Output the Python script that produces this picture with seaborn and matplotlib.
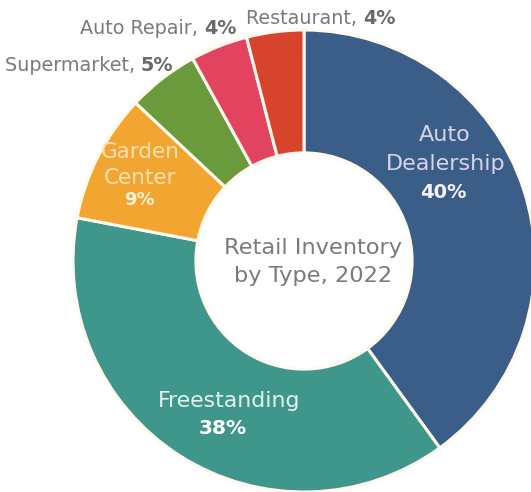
import matplotlib
matplotlib.use("Agg")
import matplotlib.pyplot as plt
import seaborn as sns

# Retail inventory shares by property type, 2022 (percent)
categories = ["Auto Dealership", "Freestanding", "Garden Center",
              "Supermarket", "Auto Repair", "Restaurant"]
shares = [40, 38, 9, 5, 4, 4]
colors = ["#3B5E88", "#3F978B", "#F2A531", "#6A9A3B", "#E2445F", "#D8432D"]
center_title = ["Retail Inventory", "by Type, 2022"]

sns.set_theme(style="white")
plt.rcParams["font.family"] = ["DejaVu Sans"]

W, H, DPI = 531, 492, 100
fig = plt.figure(figsize=(W / DPI, H / DPI), dpi=DPI)
ax = fig.add_axes([0, 0, 1, 1])

# donut centre and radius in pixels; axes limits keep 1 data unit = R pixels
cx, cy, R = 304, 261, 231


def P(px, py):
    """pixel position -> data coordinates"""
    return (px - cx) / R, (cy - py) / R


ax.pie(shares, colors=colors, startangle=90, counterclock=False,
       radius=1.0,
       wedgeprops=dict(width=0.532, edgecolor="#FFF9EE", linewidth=2.2))
ax.set_xlim(-cx / R, (W - cx) / R)
ax.set_ylim(-(H - cy) / R, cy / R)
ax.set_aspect("auto")
ax.axis("off")

pct = {c: f"{v}%" for c, v in zip(categories, shares)}

# labels inside the larger wedges
inside = [
    ("Auto Dealership", ["Auto", "Dealership"], [(445, 135), (446, 164)], (443, 192),
     "#D9D3EA", "#F6F2FC", 16.0, 14.0),
    ("Freestanding", ["Freestanding"], [(229, 401)], (223, 428),
     "#E4F1EE", "#FFFFFF", 15.8, 14.5),
    ("Garden Center", ["Garden", "Center"], [(140, 152), (140, 178)], (139, 200),
     "#FBE2B4", "#FFF3DC", 15.5, 13.0),
]
for cat, lines, pos, ppos, col, pcol, fs, pfs in inside:
    for line, (px, py) in zip(lines, pos):
        ax.text(*P(px, py), line, ha="center", va="center",
                fontsize=fs, color=col)
    ax.text(*P(*ppos), pct[cat], ha="center", va="center",
            fontsize=pfs, color=pcol, fontweight="bold")

# labels outside the small wedges: "Name, " + bold percentage
outside = [
    ("Supermarket", (141, 65)),
    ("Auto Repair", (204, 28)),
    ("Restaurant", (363, 18)),
]
for cat, (px, py) in outside:
    x, y = P(px, py)
    ax.text(x, y, f"{cat}, ", ha="right", va="center",
            fontsize=13.8, color="#7A7A7A")
    ax.text(x, y, pct[cat], ha="left", va="center",
            fontsize=13.8, color="#6A6A6A", fontweight="bold")

# title in the hole
for line, py in zip(center_title, (248, 276)):
    ax.text(*P(313, py), line, ha="center", va="center",
            fontsize=16.2, color="#7A7A7A")

fig.savefig("out.png", dpi=DPI, facecolor="white")
